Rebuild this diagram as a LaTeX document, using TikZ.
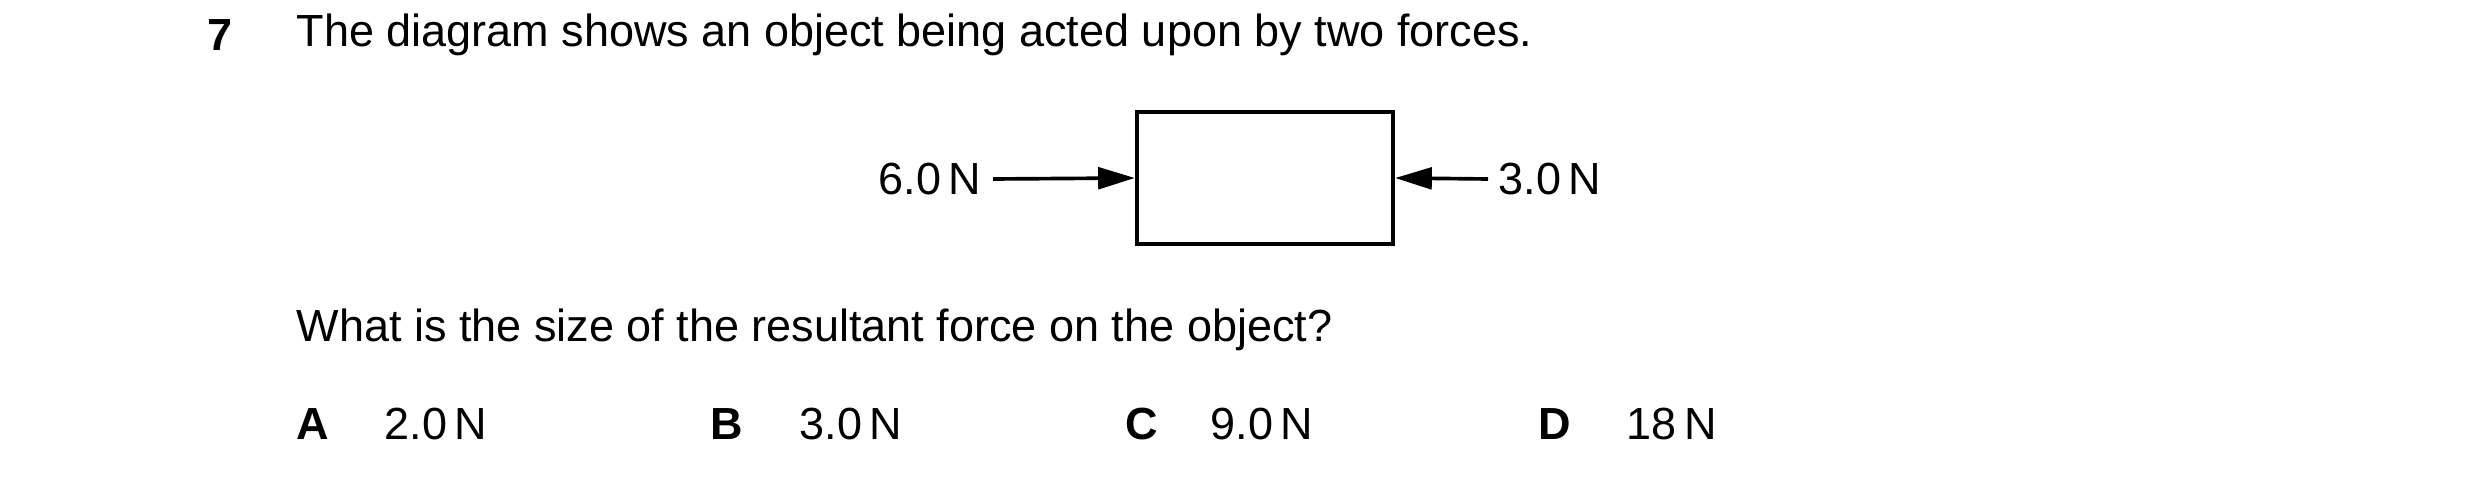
\documentclass[tikz,border=0pt]{standalone}
\usepackage{fontspec}
\setmainfont{Liberation Sans}
\usetikzlibrary{arrows.meta}
\begin{document}
\begin{tikzpicture}[x=0.3pt,y=-0.3pt,
  txt/.style={anchor=west,inner sep=0pt,font=\fontsize{13.5pt}{16pt}\selectfont},
  lbl/.style={inner sep=0pt,font=\fontsize{13.5pt}{16pt}\selectfont},
  force/.style={line width=1.1pt,-{Triangle[length=11pt,width=6.5pt]}}]
\useasboundingbox (0,0) rectangle (2480,480);
\node[txt,font=\bfseries\fontsize{13.5pt}{16pt}\selectfont] (q) at (207,35) {7};
\node[txt] (t) at (296,35) {The diagram shows an object being acted upon by two forces.};
\node[draw,line width=1.3pt,minimum width=256*0.3pt,minimum height=132*0.3pt,inner sep=0pt] (box) at (1265,178) {};
\node[lbl,anchor=east] (l6) at (982,179) {6.0\,N};
\node[lbl,anchor=west] (l3) at (1498,179) {3.0\,N};
\coordinate (s6) at (993,179);
\coordinate (s3) at (1488,179);
\draw[force] (s6) -- (box.west);
\draw[force] (s3) -- (box.east);
\node[txt] (qq) at (296,330) {What is the size of the resultant force on the object?};
\node[txt,font=\bfseries\fontsize{13.5pt}{16pt}\selectfont] (A) at (296,424) {A};
\node[txt] (a) at (384,424) {2.0\,N};
\node[txt,font=\bfseries\fontsize{13.5pt}{16pt}\selectfont] (B) at (710,424) {B};
\node[txt] (b) at (799,424) {3.0\,N};
\node[txt,font=\bfseries\fontsize{13.5pt}{16pt}\selectfont] (C) at (1125,424) {C};
\node[txt] (c) at (1210,424) {9.0\,N};
\node[txt,font=\bfseries\fontsize{13.5pt}{16pt}\selectfont] (D) at (1538,424) {D};
\node[txt] (d) at (1626,424) {18\,N};
\end{tikzpicture}
\end{document}
